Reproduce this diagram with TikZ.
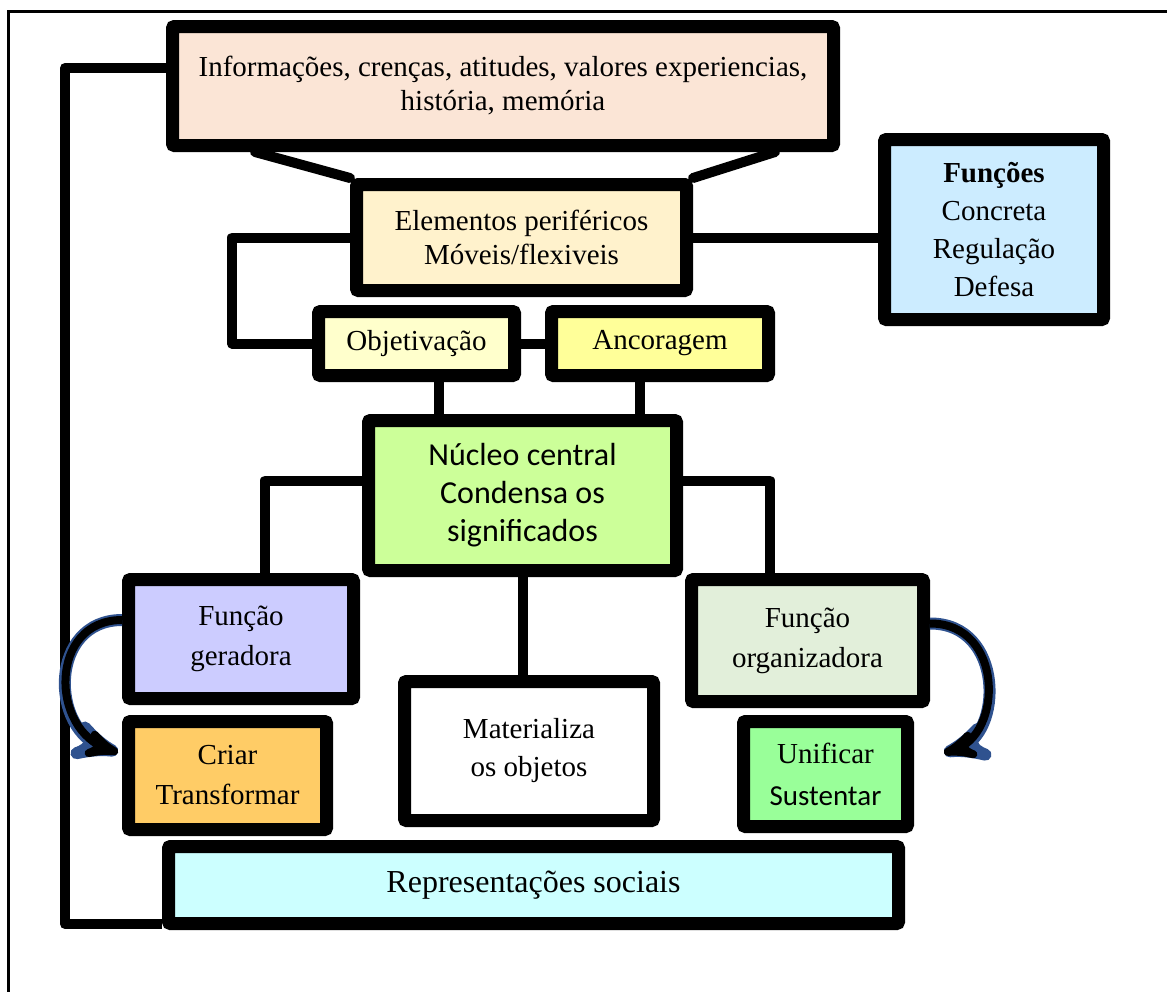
\documentclass[tikz,border=0pt]{standalone}
\usepackage{fontspec}
\setmainfont{Liberation Serif}
\newfontfamily\calibri{Carlito}
\usetikzlibrary{arrows}

\definecolor{infofill}{HTML}{FBE5D6}
\definecolor{perifill}{HTML}{FFF2CC}
\definecolor{funcfill}{HTML}{CCECFF}
\definecolor{objfill}{HTML}{FFFFCC}
\definecolor{ancfill}{HTML}{FFFF99}
\definecolor{nucfill}{HTML}{CCFF99}
\definecolor{gerfill}{HTML}{CCCCFF}
\definecolor{orgfill}{HTML}{E2EFDA}
\definecolor{criafill}{HTML}{FFCC66}
\definecolor{unifill}{HTML}{99FF99}
\definecolor{repfill}{HTML}{CCFFFF}
\definecolor{arrowblue}{HTML}{2F528F}

\begin{document}
\begin{tikzpicture}[x=0.5pt,y=-0.5pt,>=stealth',
    box node/.style={rectangle,draw,line width=6.5pt,rounded corners=1pt,
      align=center,inner sep=2pt,font=\fontsize{14.5}{17}\selectfont},
    link/.style={line width=5pt,line join=round,line cap=round},
    turn arrow/.style={->,line width=6pt,draw=arrowblue},
    turn arrow core/.style={->,line width=4pt,draw=black}]

    \useasboundingbox (0,0) rectangle (1167,992);
    \draw[line width=1.5pt] (1167,11) -- (8,11) -- (8,992);

    %% upper part
    \node[box node,fill=infofill,minimum width=330.5pt,minimum height=59.5pt] (INF) at (503,86)
      {Informações, crenças, atitudes, valores experiencias,\\história, memória};
    \node[box node,fill=perifill,minimum width=165pt,minimum height=53pt] (PER) at (521.5,237.5)
      {Elementos periféricos\\Móveis/flexiveis};
    \node[box node,fill=funcfill,minimum width=109.5pt,minimum height=90pt,
      font=\fontsize{14.5}{19}\selectfont] (FUN) at (994,229.5)
      {\textbf{Funções}\\Concreta\\Regulação\\Defesa};
    \node[box node,fill=objfill,minimum width=98pt,minimum height=32pt] (OBJ) at (416.5,343.5) {Objetivação};
    \node[box node,fill=ancfill,minimum width=108.5pt,minimum height=32pt] (ANC) at (660,343.5) {Ancoragem};

    %% core
    \node[box node,fill=nucfill,minimum width=154pt,minimum height=75pt,
      font=\calibri\fontsize{16}{19}\selectfont] (NUC) at (522.5,495.5)
      {Núcleo central\\Condensa os\\significados};

    %% lower part
    \node[box node,fill=gerfill,minimum width=112.5pt,minimum height=59.5pt,
      font=\fontsize{14.5}{20}\selectfont] (GER) at (241,639) {Função\\geradora};
    \node[box node,fill=white,minimum width=124.5pt,minimum height=69.5pt,
      font=\fontsize{14.5}{19}\selectfont] (MAT) at (529,751) {Materializa\\os objetos};
    \node[box node,fill=orgfill,minimum width=116pt,minimum height=61pt,
      font=\fontsize{14.5}{20}\selectfont] (ORG) at (807.5,640.5) {Função\\organizadora};
    \node[box node,fill=criafill,minimum width=99pt,minimum height=54pt,
      font=\fontsize{14.5}{20}\selectfont] (CRI) at (227.5,775.5) {Criar\\Transformar};
    \node[box node,fill=unifill,minimum width=82pt,minimum height=52.5pt,
      font=\fontsize{14.5}{21}\selectfont] (UNI) at (825.5,774) {Unificar\\{\calibri Sustentar}};
    \node[box node,fill=repfill,minimum width=365pt,minimum height=38.5pt,
      font=\fontsize{16}{19}\selectfont] (REP) at (533.5,885)
      {Representações sociais};

    %% connectors
    \draw[link] ([xshift=44.5pt]INF.south west) -- (PER.north west);
    \draw[link] ([xshift=-32.5pt]INF.south east) -- (PER.north east);
    \draw[link] (PER.east) -- (PER.east -| FUN.west);
    \draw[link] (PER.west) -- ++(-118,0) |- (OBJ.west);
    \draw[link] (OBJ.east) -- (ANC.west);
    \draw[link] ([xshift=11pt]OBJ.south) -- ([xshift=11pt]OBJ.south |- NUC.north);
    \draw[link] ([xshift=-10pt]ANC.south) -- ([xshift=-10pt]ANC.south |- NUC.north);
    \draw[link] ([yshift=7.5pt]NUC.west) -| ([xshift=12pt]GER.north);
    \draw[link] ([yshift=7.5pt]NUC.east) -| ([xshift=-18.75pt]ORG.north);
    \draw[link] (NUC.south) -- (NUC.south |- MAT.north);
    \draw[link,line cap=butt] ([yshift=9pt]INF.west) -- ++(-101,0) |- ([yshift=3pt]REP.south west);

    %% turning arrows
    \draw[turn arrow] ([yshift=9.5pt]GER.west) .. controls (49,620) and (49,730) .. ([xshift=-2pt,yshift=11.5pt]CRI.west);
    \draw[turn arrow core] ([yshift=9.5pt]GER.west) .. controls (49,620) and (49,730) .. ([xshift=-2pt,yshift=11.5pt]CRI.west);
    \draw[turn arrow] ([yshift=8.5pt]ORG.east) .. controls (1004,623) and (1004,735) .. ([xshift=15pt,yshift=10.5pt]UNI.east);
    \draw[turn arrow core] ([yshift=8.5pt]ORG.east) .. controls (1004,623) and (1004,735) .. ([xshift=15pt,yshift=10.5pt]UNI.east);
\end{tikzpicture}
\end{document}
